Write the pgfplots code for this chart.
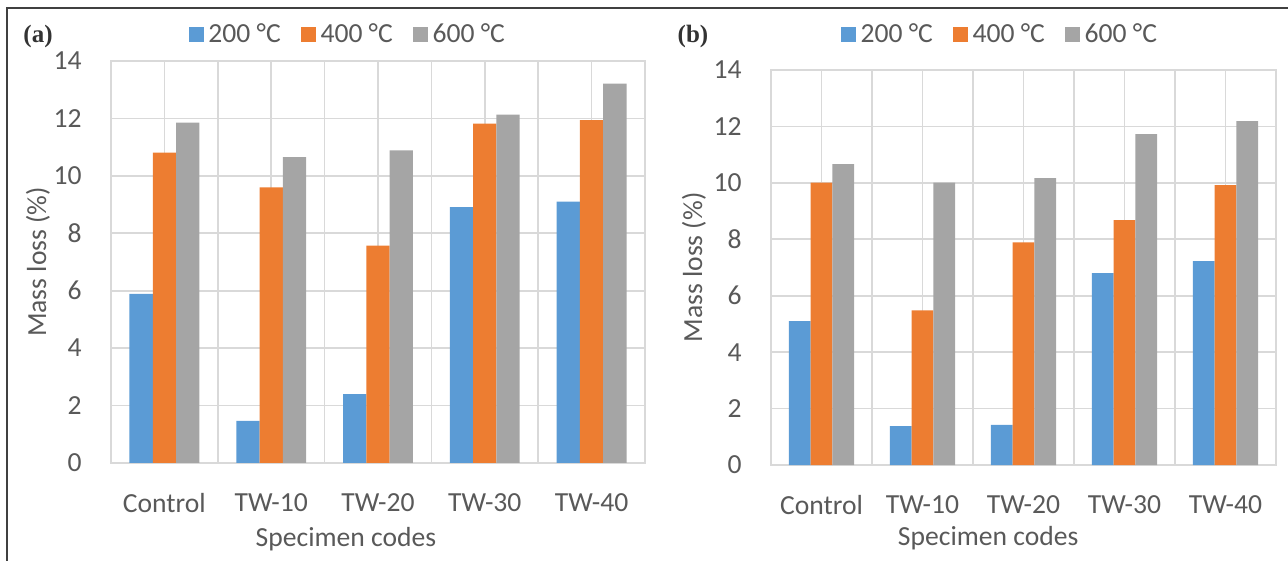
\documentclass[border=0pt]{standalone}
\usepackage{fontspec}
\setmainfont{Carlito}
\newfontfamily\panelfont{Liberation Serif}
\usepackage{pgfplots}
\pgfplotsset{compat=1.18}

\definecolor{c200}{HTML}{5B9BD5}
\definecolor{c400}{HTML}{ED7D31}
\definecolor{c600}{HTML}{A5A5A5}
\definecolor{gridgray}{HTML}{D9D9D9}
\definecolor{textgray}{HTML}{595959}
\definecolor{framegray}{HTML}{404040}

\pgfplotsset{
  massloss/.style={
    ybar, scale only axis,
    anchor=south west,
    xmin=-0.5, xmax=4.5, ymin=0, ymax=14,
    enlargelimits=false,
    xtick={0,...,4},
    xticklabels={Control,TW-10,TW-20,TW-30,TW-40},
    minor xtick={-0.5,0.5,...,4.5},
    ytick={0,2,...,14},
    xmajorgrids, xminorgrids, ymajorgrids,
    grid style={color=gridgray, line width=0.8pt},
    minor grid style={color=gridgray, line width=0.8pt},
    axis line style={color=gridgray, line width=0.8pt},
    major tick length=0pt, minor tick length=0pt,
    /pgf/number format/assume math mode=true,
    tick label style={font=\fontsize{13.8}{15}\selectfont, text=textgray},
    yticklabel style={anchor=east, inner sep=0pt, xshift=-14.5pt},
    xticklabel style={anchor=north, inner sep=0pt, yshift=-15pt},
    label style={font=\fontsize{13.8}{15}\selectfont, text=textgray},
    xlabel={Specimen codes},
    ylabel={Mass loss (\%)},
    legend columns=3,
    legend style={draw=none, fill=none, anchor=center,
      font=\fontsize{13.8}{15}\selectfont, text=textgray,
      /tikz/every even column/.append style={column sep=8pt},
      nodes={inner sep=2.2pt}},
    legend image code/.code={\fill[##1] (0pt,-3.75pt) rectangle (7.5pt,3.75pt);},
  },
}

\begin{document}
\begin{tikzpicture}
\path[use as bounding box] (0,0) rectangle (644pt,280.5pt);
% outer frame
\draw[framegray, line width=0.8pt] (3.5pt,0) -- (3.5pt,276.5pt) -- (644pt,276.5pt);
\node[font=\panelfont\bfseries\fontsize{12.5}{14}\selectfont, text=black!80] at (19pt,262.5pt) {(a)};
\node[font=\panelfont\bfseries\fontsize{12.5}{14}\selectfont, text=black!80] at (346.5pt,262.5pt) {(b)};

% panel (a)
\begin{axis}[massloss,
  at={(55.5pt,49pt)}, width=267pt, height=201pt,
  bar width=0.218,
  xlabel style={at={(axis description cs:0.44,-0.189)}, anchor=center},
  ylabel style={at={(axis description cs:-0.137,0.5)}, anchor=center},
  legend style={at={(axis description cs:0.446,1.065)}},
]
\addplot[fill=c200, draw=none, bar shift=-0.218] coordinates {(0,5.89) (1,1.47) (2,2.40) (3,8.91) (4,9.10)};
\addplot[fill=c400, draw=none, bar shift=0] coordinates {(0,10.81) (1,9.60) (2,7.57) (3,11.82) (4,11.94)};
\addplot[fill=c600, draw=none, bar shift=0.218] coordinates {(0,11.85) (1,10.65) (2,10.89) (3,12.13) (4,13.21)};
\legend{200 °C, 400 °C, 600 °C}
\end{axis}

% panel (b)
\begin{axis}[massloss,
  at={(385.5pt,48pt)}, width=252.5pt, height=197.5pt,
  bar width=0.215,
  xlabel style={at={(axis description cs:0.43,-0.185)}, anchor=center},
  ylabel style={at={(axis description cs:-0.1525,0.5)}, anchor=center},
  legend style={at={(axis description cs:0.456,1.089)}},
]
\addplot[fill=c200, draw=none, bar shift=-0.215] coordinates {(0,5.10) (1,1.38) (2,1.42) (3,6.80) (4,7.23)};
\addplot[fill=c400, draw=none, bar shift=0] coordinates {(0,10.01) (1,5.48) (2,7.89) (3,8.68) (4,9.92)};
\addplot[fill=c600, draw=none, bar shift=0.215] coordinates {(0,10.66) (1,10.01) (2,10.17) (3,11.73) (4,12.19)};
\legend{200 °C, 400 °C, 600 °C}
\end{axis}
\end{tikzpicture}
\end{document}
